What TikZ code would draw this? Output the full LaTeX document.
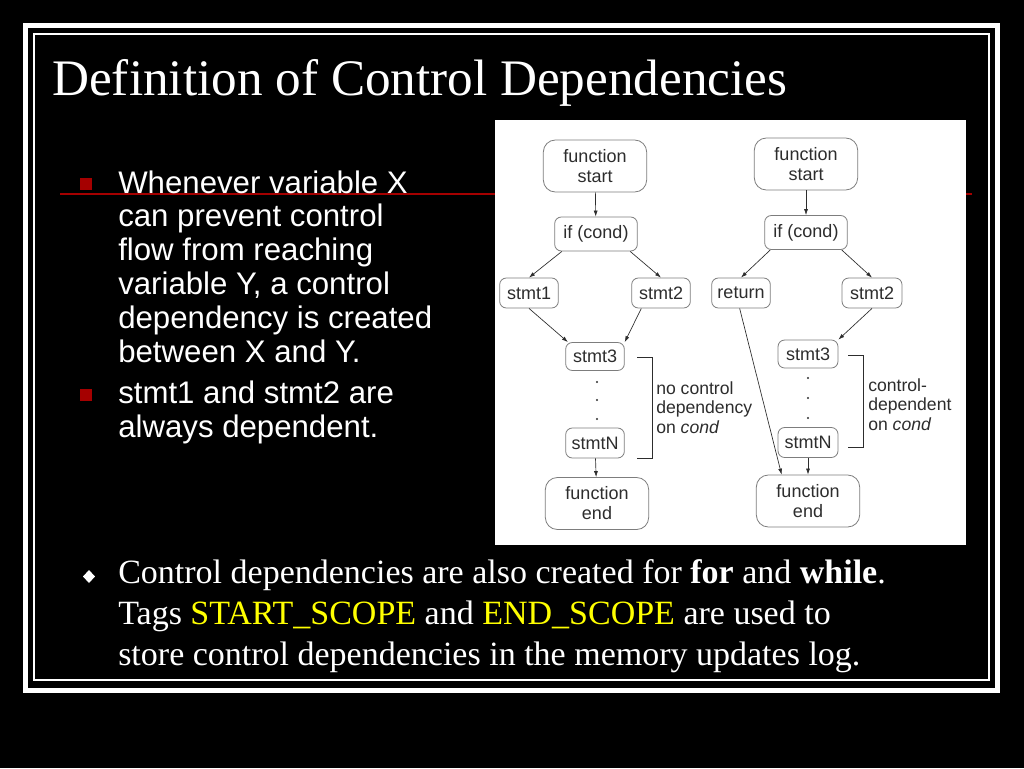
\documentclass[tikz,border=0pt]{standalone}
\usepackage{fontspec}
\setmainfont{Liberation Serif}
\setsansfont{Liberation Sans}
\usetikzlibrary{arrows.meta}
\definecolor{slidered}{RGB}{165,0,0}
\definecolor{boxgray}{RGB}{125,125,125}
\definecolor{inkgray}{RGB}{45,45,45}
\definecolor{tagyellow}{RGB}{255,255,0}

\tikzset{
  titletext/.style={anchor=base west, text=white, inner sep=0pt, font=\fontsize{38.4}{44}\selectfont},
  bultext/.style={anchor=base west, text=white, inner sep=0pt, align=left, font=\sffamily\fontsize{23.4}{25.35}\selectfont},
  bottext/.style={anchor=base west, text=white, inner sep=0pt, align=left, font=\fontsize{25.5}{30.75}\selectfont},
  flowbox/.style={draw=boxgray, line width=0.6pt, fill=white, text=inkgray, align=center, inner sep=0pt, rounded corners=5pt, font=\sffamily\fontsize{13.5}{15}\selectfont},
  bigbox/.style={flowbox, rounded corners=9pt, minimum width=77.5pt, minimum height=39pt},
  condbox/.style={flowbox, minimum width=62pt, minimum height=25.5pt},
  stmtbox/.style={flowbox, minimum width=44pt, minimum height=22.5pt},
  note/.style={anchor=base west, text=inkgray, inner sep=0pt, align=left, font=\sffamily\fontsize{13.2}{14.3}\selectfont},
  conn/.style={draw=inkgray, line width=0.5pt, -{Latex[length=4.5pt,width=3pt]}},
}

\begin{document}
\begin{tikzpicture}[x=0.75pt,y=-0.75pt]
\useasboundingbox (0,0) rectangle (1024,768);
\fill[black] (0,0) rectangle (1024,768);

% slide frame
\draw[white, line width=3.75pt] (25.5,25.5) rectangle (997.5,690.5);
\draw[white, line width=0.9pt] (34,34) rectangle (989,680);

% title and rule
\node[titletext] (title) at (52,95) {Definition of Control Dependencies};
\draw[slidered, line width=1.1pt] (60,194) -- (972,194);

% bullets on the left (base = last line)
\fill[slidered] (80,178) rectangle (92,190);
\node[bultext] (bul1) at (118,362) {Whenever variable X\\can prevent control\\flow from reaching\\variable Y, a control\\dependency is created\\between X and Y.};
\fill[slidered] (80,389) rectangle (92,401);
\node[bultext] (bul2) at (118,437) {stmt1 and stmt2 are\\always dependent.};

% figure panel
\fill[white] (495,120) rectangle (966,545);

% left flow graph
\node[bigbox]  (fsL) at (595,166) {function\\start};
\node[condbox] (ifL) at (596,234) {if (cond)};
\node[stmtbox] (s1L) at (529,293) {stmt1};
\node[stmtbox] (s2L) at (661,293) {stmt2};
\node[stmtbox, minimum height=21pt] (s3L) at (595,356.5) {stmt3};
\node[stmtbox] (sNL) at (595,443) {stmtN};
\node[bigbox]  (feL) at (597,503.5) {function\\end};

\draw[conn] (fsL) -- (ifL);
\draw[conn] (ifL.207) -- (s1L.north);
\draw[conn] (ifL.333) -- (s2L.north);
\draw[conn] (s1L.south) -- (s3L.152);
\draw[conn] (s2L.218) -- (s3L.north east);
\draw[conn] (sNL) -- (feL);
\foreach \y in {382,400,419}
  \fill[inkgray] (597,\y) circle (1.1);
\draw[inkgray, line width=0.6pt] (637,357) -| (652,458) -- (637,458);
\node[note] (noteL) at (656,433) {no control\\dependency\\on \textit{cond}};

% right flow graph
\node[bigbox]  (fsR) at (806,164) {function\\start};
\node[condbox] (ifR) at (806,232.5) {if (cond)};
\node[stmtbox] (retR) at (741,293) {return};
\node[stmtbox, minimum width=45pt] (s2R) at (872,293) {stmt2};
\node[stmtbox, minimum width=45pt, minimum height=21pt] (s3R) at (808,354) {stmt3};
\node[stmtbox, minimum width=45pt] (sNR) at (808,442.5) {stmtN};
\node[bigbox]  (feR) at (808,501) {function\\end};

\draw[conn] (fsR) -- (ifR);
\draw[conn] (ifR.206) -- (retR.north);
\draw[conn] (ifR.334) -- (s2R.north);
\draw[conn] (s2R.south) -- (s3R.north east);
\draw[conn] (retR.265) -- (feR.135);
\draw[conn] (sNR) -- (feR);
\foreach \y in {378,398,418}
  \fill[inkgray] (808,\y) circle (1.1);
\draw[inkgray, line width=0.6pt] (848,355) -| (863,447) -- (848,447);
\node[note] (noteR) at (868,430) {control-\\dependent\\on \textit{cond}};

% bottom paragraph (base = last line)
\fill[white] (89,570) -- (95,576.5) -- (89,583) -- (83,576.5) -- cycle;
\node[bottext] (para) at (118,665) {Control dependencies are also created for \textbf{for} and \textbf{while}.\\Tags \textcolor{tagyellow}{START\_SCOPE} and \textcolor{tagyellow}{END\_SCOPE} are used to\\store control dependencies in the memory updates log.};
\end{tikzpicture}
\end{document}
